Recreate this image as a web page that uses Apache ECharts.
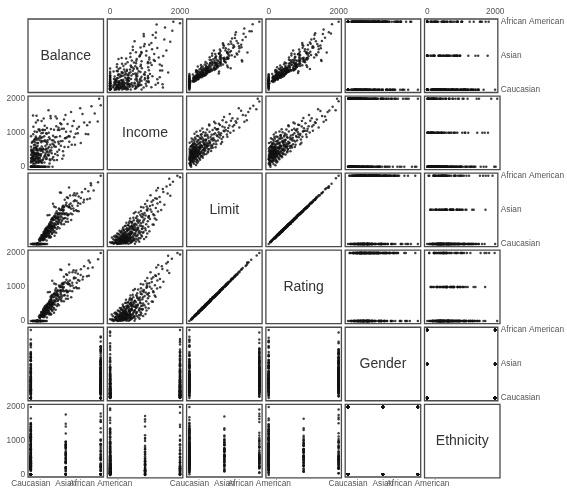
<!DOCTYPE html>
<html>
<head>
<meta charset="utf-8">
<script src="https://cdn.jsdelivr.net/npm/echarts@6/dist/echarts.min.js"></script>
<style>
html,body{margin:0;padding:0;background:#fff;}
#chart{width:567px;height:488px;}
</style>
</head>
<body>
<div id="chart"></div>
<script>
// Variables of the credit data set, in panel order
const varNames = ['Balance', 'Income', 'Limit', 'Rating', 'Gender', 'Ethnicity'];
const genderLevels = ['Male', 'Female'];
const ethnicityLevels = ['Caucasian', 'Asian', 'African American'];
const balanceTicks = [0, 1000, 2000];
const balanceTopTicks = [0, 2000];
const ethnicityTicks = [0, 1, 2];

const balance = [
  333, 279, 0, 95, 590, 0, 810, 250, 0, 430,
  320, 130, 740, 0, 220, 180, 470, 1510, 0, 150,
  350, 640, 0, 0, 400, 960, 0, 420, 0, 500,
  0, 230, 710, 0, 300, 190, 1180, 0, 560, 260,
  410, 20, 1040, 0, 290, 510, 90, 440, 0, 900,
  170, 390, 550, 0, 210, 160, 750, 0, 360, 0,
  470, 240, 790, 0, 320, 203, 560, 0, 840, 170,
  0, 480, 300, 1100, 0, 400, 720, 0, 260, 890,
  240, 190, 520, 0, 1300, 360, 220, 700, 100, 840,
  0, 650, 250, 140, 1020, 370, 0, 550, 120, 790,
  0, 420, 250, 800, 0, 490, 290, 0, 330, 1500,
  240, 620, 0, 490, 340, 0, 700, 410, 1370, 150,
  380, 0, 600, 200, 510, 380, 0, 760, 260, 990,
  130, 500, 0, 470, 150, 1100, 330, 0, 900, 380,
  260, 1080, 170, 540, 0, 850, 140, 470, 0, 720,
  360, 210, 1050, 320, 600, 0, 510, 110, 770, 850,
  0, 870, 530, 190, 1350, 520, 0, 900, 530, 0,
  1210, 290, 750, 230, 540, 310, 1420, 0, 1080, 430,
  990, 0, 380, 200, 780, 270, 740, 130, 610, 1090,
  430, 0, 500, 1000, 330, 331, 780, 100, 1140, 480,
  350, 870, 240, 650, 1660, 0, 820, 460, 1000, 220,
  660, 360, 1490, 540, 0, 720, 430, 970, 580, 190,
  570, 872, 290, 1190, 640, 340, 1110, 740, 240, 1480,
  600, 780, 200, 1430, 880, 770, 720, 0, 1080, 480,
  590, 1090, 400, 440, 910, 1151, 680, 380, 1420, 190,
  900, 460, 1250, 840, 500, 1390, 1120, 1030, 750, 330,
  620, 1520, 1080, 760, 580, 1280, 850, 240, 1120, 680,
  903, 580, 1040, 1200, 870, 1350, 890, 650, 1260, 870,
  1610, 740, 964, 970, 1180, 1550, 1120, 700, 1300, 650,
  1720, 990, 1999, 1809, 1779, 1220, 1310, 1570, 960, 1330
];

const income = [
  14.9, 15.1, 12.2, 18.5, 10.7, 16.4, 19.8, 13.3, 11.6, 17.2,
  20.0, 10.4, 14.1, 12.9, 16.9, 18.0, 11.0, 15.7, 19.3, 13.7,
  10.9, 17.8, 12.4, 14.5, 19.0, 16.1, 11.9, 13.0, 18.7, 15.3,
  10.2, 17.5, 12.7, 19.6, 14.8, 11.3, 16.6, 13.6, 18.2, 10.6,
  15.9, 12.0, 19.9, 14.3, 17.0, 11.5, 16.3, 13.9, 18.9, 10.8,
  15.5, 12.6, 19.2, 14.0, 17.4, 11.1, 16.8, 13.4, 18.4, 10.1,
  15.0, 12.3, 19.5, 14.6, 16.0, 21.0, 24.5, 27.3, 22.1, 28.8,
  20.6, 25.9, 23.4, 29.5, 21.8, 26.7, 20.3, 28.1, 24.0, 22.7,
  27.9, 21.4, 25.2, 29.9, 23.0, 26.1, 20.9, 28.5, 22.4, 24.8,
  27.0, 21.2, 29.2, 23.7, 25.6, 20.1, 26.4, 22.9, 28.3, 24.3,
  21.6, 27.6, 23.1, 29.0, 25.0, 20.4, 26.9, 22.0, 28.7, 24.6,
  21.1, 27.4, 23.5, 29.7, 25.4, 20.7, 26.2, 22.6, 28.0, 24.2,
  21.9, 27.1, 23.9, 29.4, 25.7, 31.4, 35.7, 38.2, 33.0, 36.9,
  30.5, 39.6, 32.2, 34.8, 37.5, 31.9, 35.0, 38.8, 33.6, 36.3,
  30.2, 39.1, 32.7, 34.1, 37.0, 31.1, 35.4, 38.5, 33.3, 36.6,
  30.8, 39.9, 32.5, 34.5, 37.8, 31.6, 35.9, 38.0, 33.8, 36.0,
  30.0, 39.4, 32.0, 34.3, 37.3, 42.1, 46.5, 44.0, 48.7, 41.3,
  45.2, 49.5, 43.4, 47.8, 40.6, 44.9, 42.8, 48.1, 46.0, 41.7,
  49.0, 43.9, 47.2, 40.2, 45.6, 42.5, 48.4, 44.4, 46.9, 41.0,
  49.8, 43.1, 47.5, 40.9, 45.9, 55.9, 52.3, 57.4, 51.0, 58.7,
  53.6, 56.2, 50.5, 59.3, 54.8, 52.9, 57.9, 51.6, 55.3, 58.1,
  50.9, 54.2, 59.8, 53.1, 56.6, 52.0, 57.0, 50.2, 55.6, 58.9,
  62.4, 71.4, 66.8, 74.5, 68.1, 77.9, 61.0, 79.2, 64.3, 72.6,
  69.5, 63.7, 76.1, 60.4, 75.0, 67.3, 70.8, 65.0, 78.6, 61.9,
  73.3, 68.7, 62.9, 77.0, 66.2, 80.2, 64.9, 71.7, 75.8, 69.0,
  83.9, 91.5, 87.2, 96.4, 81.7, 94.0, 88.6, 99.1, 85.3, 92.8,
  86.0, 97.7, 82.4, 90.1, 95.2, 84.5, 98.3, 89.7, 93.6, 80.9,
  106.0, 104.6, 110.9, 115.1, 101.8, 118.7, 108.2, 113.5, 103.0, 119.6,
  111.8, 107.3, 148.9, 123.3, 131.6, 140.7, 127.0, 136.2, 144.9, 121.7,
  134.8, 128.7, 182.7, 186.6, 163.3, 152.3, 158.9, 171.5, 155.0, 179.1
];

const limit = [
  3606, 3300, 1100, 2600, 4300, 2100, 5200, 2950, 1650, 3900,
  3400, 2400, 4800, 1300, 3100, 2800, 3700, 6300, 1900, 2700,
  3250, 4500, 2250, 855, 3850, 5700, 2050, 3550, 2500, 4100,
  1500, 3000, 4650, 2300, 3350, 2650, 5000, 1800, 4250, 2900,
  3750, 2150, 6100, 1250, 3200, 4000, 2450, 3650, 1700, 5500,
  2750, 3450, 4400, 2000, 3050, 2550, 4900, 1400, 3500, 2200,
  3950, 2850, 5350, 1950, 3300, 3388, 4600, 2700, 5400, 3100,
  1900, 4200, 3600, 6800, 2500, 3900, 4900, 2200, 3300, 5800,
  3450, 2950, 4450, 1600, 7200, 3750, 3200, 5100, 2650, 4000,
  1200, 4700, 3550, 2850, 6200, 3700, 2400, 4350, 3000, 5300,
  2000, 4150, 3250, 5650, 2750, 4050, 3500, 1450, 3850, 6500,
  3150, 4750, 2300, 4500, 3650, 2600, 5000, 3950, 7600, 2900,
  3800, 1850, 4550, 3350, 4300, 4100, 2400, 5600, 3700, 6400,
  3000, 4800, 1900, 4400, 3400, 5200, 3900, 2800, 6000, 4250,
  3500, 7000, 3200, 4650, 2200, 5900, 3300, 4500, 2600, 5400,
  4000, 3600, 6700, 3850, 5000, 2950, 4750, 3150, 5500, 4350,
  2100, 6200, 4550, 3450, 7800, 4800, 3500, 6300, 5200, 2900,
  7500, 4300, 5700, 3900, 5000, 4100, 8200, 3200, 5500, 4600,
  6800, 2600, 4450, 3700, 5900, 4000, 6000, 3400, 5300, 7100,
  4700, 3000, 5050, 6600, 4200, 4897, 6100, 3800, 7400, 5300,
  4500, 6700, 4000, 5800, 8000, 3300, 6400, 5000, 7000, 4300,
  5600, 4700, 9000, 5200, 3600, 6000, 4900, 6900, 5450, 4200,
  5600, 7114, 4800, 8300, 6200, 5200, 7600, 6900, 4400, 9500,
  5900, 6600, 4600, 8800, 7300, 5000, 6400, 3900, 8000, 5400,
  6000, 7900, 4950, 5700, 7000, 8047, 6100, 5300, 9200, 4500,
  7500, 6200, 8900, 7800, 5900, 9800, 6900, 8400, 7100, 5600,
  6500, 10400, 8100, 7300, 6600, 9100, 7700, 5300, 8600, 6700,
  6645, 7075, 8800, 9700, 7900, 10200, 8300, 7400, 9400, 8600,
  11000, 7700, 9504, 8900, 10100, 11600, 9600, 8400, 10800, 7800,
  12100, 9300, 13913, 13414, 12066, 10700, 11400, 12600, 9800, 11900
];

const rating = [
  283, 266, 118, 205, 331, 174, 393, 230, 151, 296,
  271, 196, 355, 131, 250, 219, 292, 468, 160, 224,
  251, 346, 186, 93, 301, 414, 181, 270, 213, 316,
  136, 245, 344, 198, 257, 220, 366, 163, 328, 227,
  297, 178, 453, 117, 247, 311, 208, 277, 157, 404,
  227, 263, 339, 167, 248, 204, 372, 138, 269, 191,
  298, 234, 392, 173, 253, 259, 351, 215, 406, 241,
  171, 314, 283, 489, 213, 305, 358, 181, 264, 432,
  262, 241, 331, 149, 514, 295, 248, 384, 211, 311,
  114, 349, 281, 224, 461, 283, 204, 325, 244, 388,
  177, 321, 251, 424, 217, 305, 278, 130, 291, 482,
  255, 352, 188, 345, 278, 217, 367, 308, 543, 238,
  289, 167, 349, 258, 331, 308, 204, 409, 292, 463,
  235, 365, 161, 338, 261, 391, 295, 231, 436, 327,
  279, 503, 258, 345, 191, 428, 264, 335, 217, 405,
  301, 284, 482, 291, 377, 241, 352, 255, 402, 335,
  175, 460, 339, 273, 556, 366, 268, 467, 381, 238,
  546, 321, 425, 295, 367, 318, 583, 258, 412, 342,
  489, 217, 331, 292, 428, 311, 436, 271, 398, 509,
  359, 235, 371, 486, 315, 357, 443, 298, 530, 388,
  345, 482, 311, 422, 580, 254, 473, 367, 513, 321,
  419, 349, 637, 381, 284, 446, 361, 506, 399, 325,
  409, 512, 366, 590, 460, 381, 553, 496, 338, 671,
  438, 476, 352, 623, 533, 367, 473, 295, 570, 405,
  436, 573, 365, 425, 503, 569, 453, 388, 660, 345,
  546, 450, 641, 556, 438, 691, 506, 597, 519, 409,
  479, 730, 586, 523, 486, 644, 560, 388, 620, 483,
  483, 514, 623, 694, 563, 727, 590, 540, 663, 620,
  771, 560, 681, 641, 711, 821, 677, 607, 758, 566,
  845, 667, 982, 949, 828, 751, 808, 879, 705, 831
];

// 0 = Male, 1 = Female
const gender = [
  0,1,1,0,1,1,0,1,0,1, 0,1,1,0,0,1,0,1,1,0, 1,0,1,0,1,0,1,1,0,1, 0,1,0,1,0,1,1,0,1,0,
  1,0,1,0,1,0,1,0,1,1, 0,1,0,1,0,1,1,0,1,0, 1,0,1,0,1,1,0,1,0,1, 0,1,1,0,1,0,1,0,1,0,
  1,1,0,1,0,1,0,1,0,1, 1,0,1,0,1,0,1,0,1,1, 0,1,0,1,0,1,0,1,0,1, 1,0,1,0,1,0,1,0,1,1,
  0,1,0,1,0,1,0,1,0,1, 1,0,1,0,1,0,1,0,1,1, 0,1,0,1,0,1,0,1,1,0, 1,0,1,0,1,0,1,1,0,1,
  0,1,0,1,0,1,0,1,0,1, 0,1,1,0,1,0,1,0,1,1, 0,1,0,1,0,1,0,1,1,0, 1,0,1,0,1,0,1,0,1,1,
  0,1,0,1,1,0,1,0,1,0, 1,1,0,1,0,1,0,1,1,0, 1,0,1,0,1,1,0,1,0,1, 0,1,0,1,1,0,1,0,1,0,
  1,1,0,1,0,0,1,0,1,0, 1,0,1,0,1,1,0,1,0,1, 0,1,1,0,1,0,1,0,1,0, 1,0,1,0,1,1,0,1,0,1,
  0,1,1,0,1,0,1,1,0,1, 0,1,0,1,1,0,1,0,1,0
];

// 0 = Caucasian, 1 = Asian, 2 = African American
const ethnicity = [
  0,0,2,0,1,0,2,0,1,0, 0,2,0,0,1,0,2,0,0,1, 0,0,2,0,1,0,0,2,0,0, 1,0,2,0,0,1,0,0,2,0,
  0,1,0,2,0,0,1,0,0,2, 0,0,1,0,2,0,0,1,0,0, 2,0,1,0,0,2,0,0,1,0, 0,2,0,0,1,0,0,2,0,1,
  0,0,2,0,0,1,0,0,2,0, 0,1,0,0,2,0,0,1,0,0, 2,0,0,1,0,0,2,0,0,1, 0,0,2,0,0,1,0,0,2,0,
  0,1,0,0,2,0,0,1,0,0, 2,0,0,1,0,0,2,0,0,1, 0,0,2,0,0,1,0,0,2,0, 0,1,0,0,2,0,0,1,0,0,
  2,0,0,1,0,0,0,2,0,0, 1,0,0,2,0,0,1,0,0,2, 0,0,1,0,0,2,0,0,1,0, 0,2,0,0,1,0,0,2,0,1,
  0,0,2,0,0,1,0,0,2,0, 0,1,0,0,2,0,0,1,0,0, 0,1,2,0,0,1,0,0,2,0, 0,1,0,0,2,0,0,1,0,0,
  2,0,0,1,0,0,2,0,0,1, 0,0,2,0,1,0,0,2,0,0, 1,0,0,2,0,0,1,0,0,2, 1,1,0,0,2,0,0,1,0,0,
  2,0,1,0,0,2,0,1,0,0, 2,0,0,2,1,0,0,2,1,0
];

const columns = [balance, income, limit, rating, gender, ethnicity];

// Panel layout
const PANEL_LEFT = 28, PANEL_TOP = 19;
const STEP_X = 79.3, STEP_Y = 77.06;
const PANEL_W = 75.5, PANEL_H = 73.5;
const FONT = 'Liberation Sans, Arial, Helvetica, sans-serif';

function paddedRange(values) {
  const lo = Math.min(...values), hi = Math.max(...values);
  const pad = (hi - lo) * 0.04;
  return [lo - pad, hi + pad];
}
const ranges = columns.map(paddedRange);

const tickText = {
  fontFamily: FONT, fontSize: 8.3, color: '#555', margin: 3,
  hideOverlap: false, showMinLabel: true, showMaxLabel: true
};
const plainNumber = v => String(Math.round(v));
const ethnicityName = v => ethnicityLevels[Math.round(v)] || '';
const hiddenLine = { axisLine: { show: false }, axisTick: { show: false }, splitLine: { show: false } };

const grids = [], xAxes = [], yAxes = [], series = [], graphics = [];
const extraXAxes = [];
const n = varNames.length;

for (let i = 0; i < n; i++) {          // row: variable on the x axis
  for (let j = 0; j < n; j++) {        // column: variable on the y axis
    const k = i * n + j;
    const left = PANEL_LEFT + j * STEP_X;
    const top = PANEL_TOP + i * STEP_Y;
    grids.push({
      left: left, top: top, width: PANEL_W, height: PANEL_H,
      show: true, borderColor: '#4a4a4a', borderWidth: 1.3,
      backgroundColor: 'transparent', containLabel: false
    });

    // x axis labels: balance on top of the first row, ethnicity under the last row
    let xLabel = { show: false };
    let xPos = 'bottom';
    if (i === 0 && j % 2 === 1) {
      xPos = 'top';
      xLabel = Object.assign({ show: true, customValues: balanceTopTicks, formatter: plainNumber }, tickText);
    } else if (i === n - 1 && j % 2 === 0) {
      // outer categories here; the middle one sits on a twin axis so the
      // overlapping labels are all kept
      xLabel = Object.assign({ show: true, customValues: [ethnicityTicks[0], ethnicityTicks[2]], formatter: ethnicityName }, tickText);
      extraXAxes.push(Object.assign({
        type: 'value', gridIndex: k, position: 'bottom',
        min: ranges[i][0], max: ranges[i][1],
        axisLabel: Object.assign({ show: true, customValues: [ethnicityTicks[1]], formatter: ethnicityName }, tickText)
      }, hiddenLine));
    }
    xAxes.push(Object.assign({
      type: 'value', gridIndex: k, position: xPos,
      min: ranges[i][0], max: ranges[i][1],
      axisLabel: xLabel
    }, hiddenLine));

    // y axis labels: balance left of the first column, ethnicity right of the last column
    let yLabel = { show: false };
    let yPos = 'left';
    if (j === 0 && i % 2 === 1) {
      yLabel = Object.assign({ show: true, customValues: balanceTicks, formatter: plainNumber }, tickText);
    } else if (j === n - 1 && i % 2 === 0) {
      yPos = 'right';
      yLabel = Object.assign({ show: true, customValues: ethnicityTicks, formatter: ethnicityName }, tickText);
    }
    yAxes.push(Object.assign({
      type: 'value', gridIndex: k, position: yPos,
      min: ranges[j][0], max: ranges[j][1],
      axisLabel: yLabel
    }, hiddenLine));

    if (i === j) {
      graphics.push({
        type: 'text', x: left + PANEL_W / 2, y: top + PANEL_H / 2,
        style: {
          text: varNames[i], fontFamily: FONT, fontSize: 14, fill: '#333',
          align: 'center', verticalAlign: 'middle'
        },
        silent: true
      });
    } else {
      const xs = columns[i], ys = columns[j];
      series.push({
        type: 'scatter', xAxisIndex: k, yAxisIndex: k,
        data: xs.map((v, r) => [v, ys[r]]),
        symbol: 'circle', symbolSize: 2.5,
        itemStyle: { color: '#111' },
        silent: true, animation: false
      });
    }
  }
}

const chart = echarts.init(document.getElementById('chart'), null, { renderer: 'canvas' });
chart.setOption({
  backgroundColor: '#fff',
  animation: false,
  grid: grids,
  xAxis: xAxes.concat(extraXAxes),
  yAxis: yAxes,
  series: series,
  graphic: graphics
});
</script>
</body>
</html>
